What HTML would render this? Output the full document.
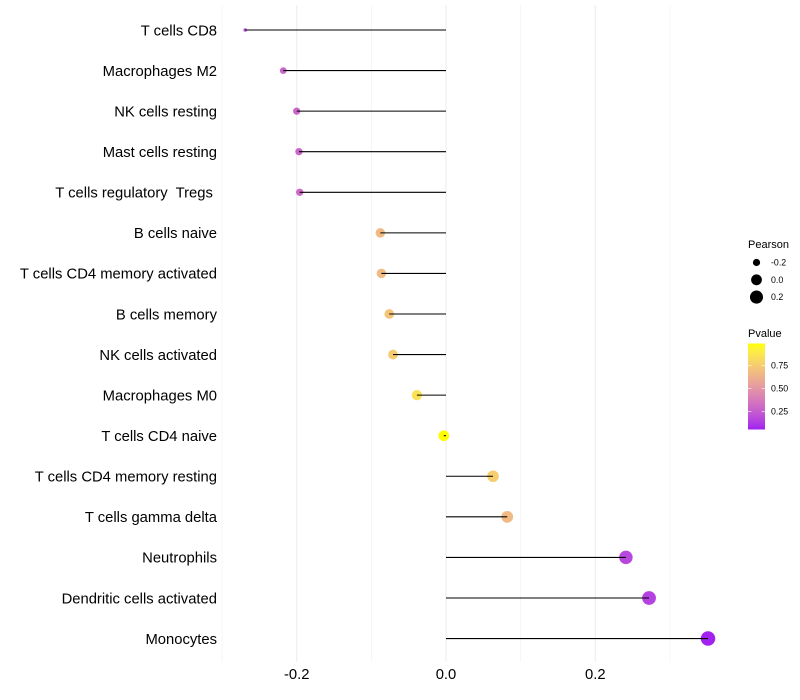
<!DOCTYPE html>
<html>
<head>
<meta charset="utf-8">
<style>
html,body{margin:0;padding:0;background:#fff;}
svg{display:block;font-family:"Liberation Sans",sans-serif;}
</style>
</head>
<body>
<svg id="chart" xmlns="http://www.w3.org/2000/svg" width="800" height="700" viewBox="0 0 800 700">
<rect x="0" y="0" width="800" height="700" fill="#fff"/>
<g id="grid"></g>
<g id="stems"></g>
<g id="points"></g>
<g id="ylabels"></g>
<g id="xlabels"></g>
<g id="size-legend">
<text x="748" y="248" font-size="11" fill="#000">Pearson</text>
</g>
<g id="color-legend">
<text x="748" y="337" font-size="11" fill="#000">Pvalue</text>
<defs><linearGradient id="pgrad" x1="0" y1="1" x2="0" y2="0"></linearGradient></defs>
<rect x="748" y="343.5" width="17" height="86" fill="url(#pgrad)"/>
</g>
</svg>
<script>
const categories = ["T cells CD8","Macrophages M2","NK cells resting","Mast cells resting","T cells regulatory  Tregs ","B cells naive","T cells CD4 memory activated","B cells memory","NK cells activated","Macrophages M0","T cells CD4 naive","T cells CD4 memory resting","T cells gamma delta","Neutrophils","Dendritic cells activated","Monocytes"];
const pearson = [-0.269,-0.218,-0.200,-0.197,-0.196,-0.088,-0.0865,-0.076,-0.071,-0.039,-0.003,0.063,0.082,0.241,0.272,0.351];
const pvalue = [0.20,0.28,0.29,0.29,0.31,0.67,0.68,0.72,0.75,0.86,0.997,0.76,0.67,0.17,0.15,0.06];
const xTicks = [-0.2,0.0,0.2];
const xMinorTicks = [-0.3,-0.1,0.1,0.3];
const sizeLegendValues = [-0.2,0.0,0.2];
const colorLegendValues = [0.25,0.50,0.75];

const NS = "http://www.w3.org/2000/svg";
function mk(tag, attrs, parent){
  const e = document.createElementNS(NS, tag);
  for (const k in attrs) e.setAttribute(k, attrs[k]);
  parent.appendChild(e);
  return e;
}
const xScale = v => 446 + v * 746.5;
const yScale = i => 30 + i * 40.57;
const rScale = v => {
  const lo = -0.269, hi = 0.351;
  return 1.8 + 5.45 * Math.sqrt(Math.max(0, (v - lo) / (hi - lo)));
};
function toLin(c){c/=255;return c>0.04045?Math.pow((c+0.055)/1.055,2.4):c/12.92;}
function fromLin(c){const v=c>0.0031308?1.055*Math.pow(c,1/2.4)-0.055:12.92*c;return Math.round(Math.min(1,Math.max(0,v))*255);}
function rgb2lab(r,g,b){
  r=toLin(r);g=toLin(g);b=toLin(b);
  const f=t=>t>0.008856?Math.cbrt(t):7.787*t+16/116;
  const X=f((0.4124*r+0.3576*g+0.1805*b)/0.95047),Y=f(0.2126*r+0.7152*g+0.0722*b),Z=f((0.0193*r+0.1192*g+0.9505*b)/1.08883);
  return [116*Y-16,500*(X-Y),200*(Y-Z)];
}
function lab2rgb(L,a,b){
  const fy=(L+16)/116,fx=a/500+fy,fz=fy-b/200;
  const g=t=>t*t*t>0.008856?t*t*t:(t-16/116)/7.787;
  const X=0.95047*g(fx),Y=g(fy),Z=1.08883*g(fz);
  return "rgb("+fromLin(3.2406*X-1.5372*Y-0.4986*Z)+","+fromLin(-0.9689*X+1.8758*Y+0.0415*Z)+","+fromLin(0.0557*X-0.2040*Y+1.0570*Z)+")";
}
const labLow = rgb2lab(160,32,240), labHigh = rgb2lab(255,255,0);
const pMin = 0.053, pMax = 0.997;
function colorScale(p){
  const t = Math.min(1, Math.max(0, (p - pMin) / (pMax - pMin)));
  return lab2rgb(labLow[0]+(labHigh[0]-labLow[0])*t, labLow[1]+(labHigh[1]-labLow[1])*t, labLow[2]+(labHigh[2]-labLow[2])*t);
}

const grid = document.getElementById('grid');
xMinorTicks.forEach(v => {
  const l = mk('line',{x1:xScale(v),x2:xScale(v),y1:5,y2:662,stroke:'#f0f0f0','stroke-width':0.55},grid);
  
  
});
xTicks.forEach(v => {
  const l = mk('line',{x1:xScale(v),x2:xScale(v),y1:5,y2:662,stroke:'#ededed','stroke-width':1.07},grid);
  
  
});

const stems = document.getElementById('stems');
const points = document.getElementById('points');
const ylabels = document.getElementById('ylabels');
categories.forEach((c,i) => {
  const p = mk('circle',{cx:xScale(pearson[i]),cy:yScale(i),r:rScale(pearson[i]),fill:colorScale(pvalue[i])},points);
  
  
  const s = mk('line',{x1:xScale(0),x2:xScale(pearson[i]),y1:yScale(i),y2:yScale(i),stroke:'#000','stroke-width':1.07},stems);
  
  
  const t = mk('text',{x:217,y:yScale(i)+5.3,'text-anchor':'end','font-size':14.8,fill:'#000'},ylabels);
  
  
  t.setAttribute('xml:space','preserve');
  t.style.whiteSpace = 'pre';
  t.textContent = c;
});
// stems sit above the points
document.getElementById('chart').insertBefore(points, stems);

const xlabels = document.getElementById('xlabels');
xTicks.forEach(v => {
  const t = mk('text',{x:xScale(v),y:679,'text-anchor':'middle','font-size':14.8,fill:'#000'},xlabels);
  
  
  t.textContent = v.toFixed(1);
});

const sizeLegend = document.getElementById('size-legend');
sizeLegendValues.forEach((v,i) => {
  const y = 262.5 + i * 17.3;
  const c = mk('circle',{cx:756.5,cy:y,r:rScale(v),fill:'#000'},sizeLegend);
  
  
  const t = mk('text',{x:771,y:y+3,'font-size':8.8,fill:'#000'},sizeLegend);
  
  
  t.textContent = v.toFixed(1);
});

const grad = document.getElementById('pgrad');
for (let k = 0; k <= 20; k++) {
  const s = mk('stop',{offset:(k/20),'stop-color':colorScale(pMin+(pMax-pMin)*k/20)},grad);
}
const barY = p => 388.5 - (p - 0.5) * 91.2;
const colorLegend = document.getElementById('color-legend');
colorLegendValues.forEach(v => {
  const y = barY(v);
  const a = mk('line',{x1:748,x2:751.4,y1:y,y2:y,stroke:'#fff','stroke-width':0.6},colorLegend);
  
  
  const b = mk('line',{x1:761.6,x2:765,y1:y,y2:y,stroke:'#fff','stroke-width':0.6},colorLegend);
  
  
  const t = mk('text',{x:771,y:y+3,'font-size':8.8,fill:'#000'},colorLegend);
  
  
  t.textContent = v.toFixed(2);
});
</script>
</body>
</html>
